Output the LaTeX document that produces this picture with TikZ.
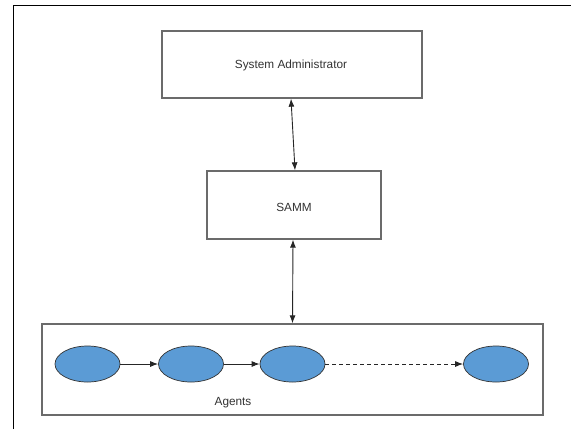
\documentclass[tikz,border=0pt]{standalone}
\usepackage{fontspec}
\setmainfont{Liberation Sans}
\usetikzlibrary{arrows.meta,shapes.geometric}
\definecolor{agentblue}{HTML}{5B9BD5}
\definecolor{boxgray}{HTML}{6B6B6B}
\definecolor{txtgray}{HTML}{333333}
\begin{document}
\begin{tikzpicture}[x=1pt,y=-1pt,
  box/.style={draw=boxgray,line width=1.3pt,fill=white,inner sep=0pt},
  agent/.style={ellipse,draw=black!80,line width=0.7pt,fill=agentblue,
    minimum width=65pt,minimum height=36pt,inner sep=0pt},
  lbl/.style={text=txtgray,font=\fontsize{11.8}{14}\selectfont},
  tip/.style={Latex[length=8pt,width=6pt]},
  link/.style={draw=black!85,line width=0.9pt,-{Latex[length=8pt,width=6pt]}},
  both/.style={draw=black!85,line width=0.9pt,{Latex[length=8pt,width=6pt]}-{Latex[length=8pt,width=6pt]}}]
  \useasboundingbox (0,0) rectangle (572,429);
  % page frame
  \draw[line width=0.9pt] (13,429) -- (13,5.5) -- (571,5.5);
  % boxes
  \node[box,minimum width=260pt,minimum height=67pt] (sa) at (292,64.5) {};
  \node[lbl] (satext) at (291,65) {System Administrator};
  \node[box,minimum width=174pt,minimum height=68pt] (samm) at (294,205) {};
  \node[lbl] (sammtext) at (294,207) {SAMM};
  \node[box,minimum width=501pt,minimum height=91pt] (agents) at (292.5,369.5) {};
  \node[lbl] (agtext) at (233,403) {Agents};
  % agents
  \node[agent] (a1) at (87.5,364) {};
  \node[agent] (a2) at (191,364) {};
  \node[agent] (a3) at (292.5,364) {};
  \node[agent] (a4) at (496,364) {};
  % connectors
  \draw[both] ([xshift=-1pt]sa.south) -- ([xshift=1pt]samm.north);
  \draw[both] ([xshift=-1pt]samm.south) -- (agents.north);
  \draw[link] (a1) -- (a2);
  \draw[link] (a2) -- (a3);
  \draw[link,dashed,dash pattern=on 4pt off 3pt] (a3) -- (a4);
\end{tikzpicture}
\end{document}
